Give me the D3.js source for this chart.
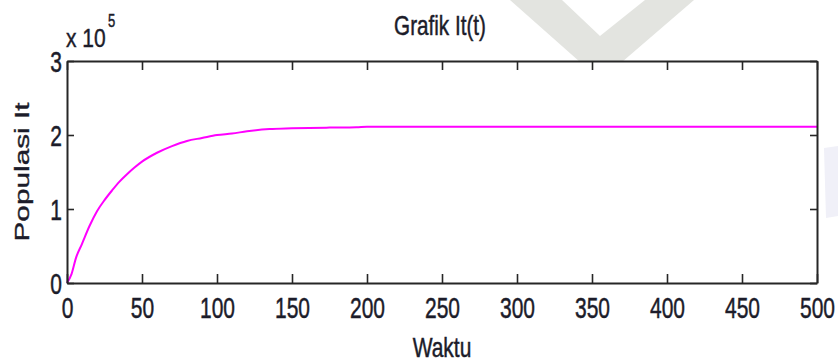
<!DOCTYPE html>
<html>
<head>
<meta charset="utf-8">
<script src="https://cdn.jsdelivr.net/npm/d3@7"></script>
<style>
  html, body { margin: 0; padding: 0; background: #fff; }
  svg { display: block; }
  .lbl { font-family: "Liberation Sans", Arial, Helvetica, sans-serif; fill: #1c1c2a; stroke: #1c1c2a; stroke-width: 0.35px; }
</style>
</head>
<body>
<svg id="chart" width="838" height="362"></svg>
<script>
// ---- data ----
const waktu = [0, 3, 6, 10, 15, 20, 25, 30, 35, 40, 45, 50, 60, 70, 80, 90, 100, 110, 120, 135, 150, 175, 193, 200, 250, 300, 350, 400, 450, 500];
const populasiIt = [0, 0.12, 0.34, 0.53, 0.77, 0.97, 1.12, 1.25, 1.37, 1.47, 1.56, 1.64, 1.76, 1.85, 1.92, 1.96, 2.00, 2.02, 2.05, 2.08, 2.09, 2.10, 2.105, 2.113, 2.113, 2.113, 2.113, 2.113, 2.113, 2.113];
const xTicks = [0, 50, 100, 150, 200, 250, 300, 350, 400, 450, 500];
const yTicks = [0, 1, 2, 3];
const titleText = "Grafik It(t)";
const xLabel = "Waktu";
const yLabel = "Populasi It";

(function () {
const svg = d3.select("#chart");
const mLeft = 67, mRight = 817, mTop = 61, mBottom = 283;
const SY = 1.42; // vertical stretch of the text in the reference

// watermark
svg.append("path")
  .attr("d", "M510,0 L562,0 L600,36 L645,0 L694,0 L622,62 L580,62 Z")
  .attr("fill", "#e3e4e0");
svg.append("path")
  .attr("d", "M824,148 L838,146 L838,216 L826,218 Z")
  .attr("fill", "#f0f0f8");

const x = d3.scaleLinear().domain([0, 500]).range([mLeft, mRight]);
const y = d3.scaleLinear().domain([0, 3]).range([mBottom, mTop]);

// plot area
svg.append("rect").attr("x", mLeft).attr("y", mTop)
  .attr("width", mRight - mLeft).attr("height", mBottom - mTop).attr("fill", "#fff");

// curve
svg.append("path")
  .datum(waktu.map((t, i) => [t, populasiIt[i]]))
  .attr("fill", "none")
  .attr("stroke", "#ff00ff")
  .attr("stroke-width", 2)
  .attr("d", d3.line().x(d => x(d[0])).y(d => y(d[1])).curve(d3.curveMonotoneX));

function styleAxis(g) {
  g.attr("font-family", null).attr("font-size", null);
  g.selectAll(".domain").attr("stroke", "#262626").attr("stroke-width", 2);
  g.selectAll(".tick line").attr("stroke", "#262626").attr("stroke-width", 1.6);
}

const gB = svg.append("g").attr("transform", `translate(0,${mBottom})`)
  .call(d3.axisBottom(x).tickValues(xTicks).tickSize(-9).tickSizeOuter(0));
gB.selectAll(".tick text").attr("class", "lbl")
  .attr("y", 0).attr("dy", 0)
  .attr("font-size", 21)
  .attr("transform", `translate(0,35) scale(1,${SY})`);
styleAxis(gB);

const gT = svg.append("g").attr("transform", `translate(0,${mTop})`)
  .call(d3.axisTop(x).tickValues(xTicks).tickSize(-9).tickSizeOuter(0).tickFormat(""));
styleAxis(gT);

const gL = svg.append("g").attr("transform", `translate(${mLeft},0)`)
  .call(d3.axisLeft(y).tickValues(yTicks).tickSize(-7).tickSizeOuter(0).tickFormat(d3.format("d")));
gL.selectAll(".tick text").attr("class", "lbl")
  .attr("x", 0).attr("dy", 0)
  .attr("font-size", 21)
  .attr("text-anchor", "end")
  .attr("transform", `translate(-5,10.5) scale(1,${SY})`);
styleAxis(gL);

const gR = svg.append("g").attr("transform", `translate(${mRight},0)`)
  .call(d3.axisRight(y).tickValues(yTicks).tickSize(-7).tickSizeOuter(0).tickFormat(""));
styleAxis(gR);

// exponent label
svg.append("text").attr("class", "lbl")
  .attr("transform", "translate(66,47) scale(1,1.25)")
  .attr("font-size", 21).text("x 10");
svg.append("text").attr("class", "lbl")
  .attr("transform", "translate(108,27) scale(1,1.45)")
  .attr("font-size", 13).text("5");

// title
svg.append("text").attr("class", "lbl")
  .attr("text-anchor", "middle")
  .attr("font-size", 20.7)
  .attr("transform", `translate(440,35) scale(1,1.36)`)
  .text(titleText);

// x label
svg.append("text").attr("class", "lbl")
  .attr("text-anchor", "middle")
  .attr("font-size", 21)
  .attr("transform", `translate(442,357) scale(1,1.34)`)
  .text(xLabel);

// y label
svg.append("text").attr("class", "lbl")
  .attr("text-anchor", "middle")
  .attr("font-size", 21)
  .attr("transform", `translate(29,172) rotate(-90) scale(1.42,1)`)
  .text(yLabel);
})();
</script>
</body>
</html>
